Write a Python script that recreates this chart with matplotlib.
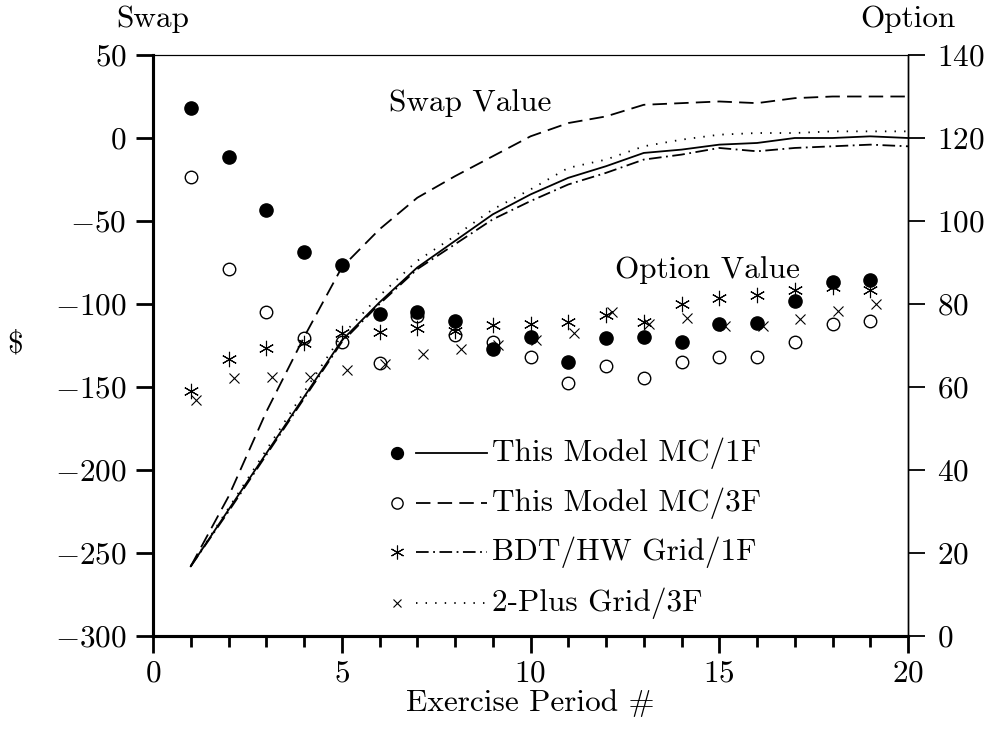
import matplotlib
matplotlib.use('Agg')
import matplotlib.pyplot as plt
import numpy as np
from matplotlib.ticker import MultipleLocator

plt.rcParams['font.family'] = 'serif'
plt.rcParams['font.serif'] = ['cmr10', 'DejaVu Serif']
plt.rcParams['mathtext.fontset'] = 'cm'
plt.rcParams['axes.formatter.use_mathtext'] = True

# swap values ($), left axis -- one value per exercise period
periods = np.arange(1, 21)
swap_mc1f = [-258, -224, -190, -156, -122, -99, -78, -62, -46, -34, -24, -17, -9, -7, -4, -3, 0, 0, 1, 0]
swap_mc3f = [-258, -216, -165, -120, -78, -55, -36, -23, -11, 1, 9, 13, 20, 21, 22, 21, 24, 25, 25, 25]
swap_bdt = [-258, -225, -191, -157, -123, -100, -79, -64, -49, -38, -28, -21, -13, -10, -6, -8, -6, -5, -4, -5]
swap_2plus = [-258, -223, -188, -153, -119, -95, -74, -59, -43, -31, -18, -13, -5, -1, 2, 3, 3, 4, 4, 4]

# option values, right axis
opt_periods = np.arange(1, 20)
opt_mc1f = [127.2, 115.5, 102.6, 92.6, 89.4, 77.6, 78.1, 76.0, 69.2, 72.1, 66.1, 71.9, 72.1, 70.8, 75.2, 75.5, 80.8, 85.4, 85.8]
opt_mc3f = [110.5, 88.4, 78.1, 71.7, 70.9, 65.7, 77.2, 72.5, 70.9, 67.3, 61.0, 65.1, 62.2, 66.1, 67.3, 67.3, 70.9, 75.3, 76.0]
opt_bdt = [59.1, 66.7, 69.3, 70.5, 72.9, 73.3, 74.1, 73.5, 74.9, 75.3, 75.7, 77.3, 75.7, 80.0, 81.4, 82.2, 83.4, 84.2, 83.4]
opt_2plus = [56.9, 62.2, 62.5, 62.5, 64.1, 65.5, 67.9, 69.1, 70.1, 71.3, 72.9, 78.1, 75.3, 76.7, 74.7, 74.7, 76.5, 78.4, 80.0]

labels = ['This Model MC/1F', 'This Model MC/3F', 'BDT/HW Grid/1F', '2-Plus Grid/3F']

FS = 22.5
lw = 1.3
styles = [dict(ls='-'), dict(ls=(0, (8, 4))), dict(ls=(0, (7, 2.5, 1, 2.5))), dict(ls=(0, (0.8, 4.5)))]
marks = [dict(marker='o', mfc='k', mec='k', ms=9.5),
         dict(marker='o', mfc='none', mec='k', ms=9, mew=1.0),
         dict(marker=(6, 2, 0), mfc='k', mec='k', ms=11, mew=0.8),
         dict(marker='x', mfc='k', mec='k', ms=6.5, mew=0.8)]

fig = plt.figure(figsize=(9.9, 7.42), dpi=100)
ax = fig.add_axes([153/990, 1 - 636/742, 755/990, 581/742])
ax2 = ax.twinx()

swaps = [swap_mc1f, swap_mc3f, swap_bdt, swap_2plus]
opts = [opt_mc1f, opt_mc3f, opt_bdt, opt_2plus]
for s, st in zip(swaps, styles):
    ax.plot(periods, s, color='k', lw=lw, **st)
offsets = [0, 0, 0, 0.15]
for o, mk, dx in zip(opts, marks, offsets):
    ax2.plot(opt_periods + dx, o, ls='none', **mk)

ax.set_xlim(0, 20)
ax.set_ylim(-300, 50)
ax2.set_ylim(0, 140)
ax.xaxis.set_major_locator(MultipleLocator(5))
ax.xaxis.set_minor_locator(MultipleLocator(1))
ax.yaxis.set_major_locator(MultipleLocator(50))
ax2.yaxis.set_major_locator(MultipleLocator(20))

for a in (ax, ax2):
    a.spines['top'].set_linewidth(0.8)
    a.spines['left'].set_linewidth(2.2)
    a.spines['bottom'].set_linewidth(2.2)
    a.spines['right'].set_linewidth(1.0)
ax.tick_params(axis='x', which='major', direction='out', length=12, width=2, pad=5, labelsize=FS)
ax.tick_params(axis='x', which='minor', direction='out', length=8, width=2)
ax.tick_params(axis='y', direction='out', length=12, width=2, pad=7, labelsize=FS)
ax2.tick_params(axis='y', direction='out', length=12, width=1.3, pad=9, labelsize=FS)

ax.set_xlabel('Exercise Period #', fontsize=FS, va='center')
ax.xaxis.set_label_coords(0.5, (636 - 703) / 581)
ax.set_ylabel('\\$', fontsize=FS, rotation=0, va='center', ha='center')
ax.yaxis.set_label_coords((15 - 153) / 755, (636 - 345) / 581)
ax.text(0, 1.062, 'Swap', transform=ax.transAxes, ha='center', va='center', fontsize=FS)
ax.text(1, 1.062, 'Option', transform=ax.transAxes, ha='center', va='center', fontsize=FS)
ax.text(8.4, 21, 'Swap Value', ha='center', va='center', fontsize=FS)
ax2.text(14.7, 88.2, 'Option Value', ha='center', va='center', fontsize=FS)

# legend drawn by hand: marker, then line sample, then text
rows = [0.315, 0.229, 0.144, 0.057]
for y, st, mk, lab in zip(rows, styles, marks, labels):
    m = dict(mk)
    m['ms'] = m['ms'] * 0.9
    ax.plot([0.323], [y], transform=ax.transAxes, ls='none', clip_on=False, **m)
    ax.plot([0.348, 0.442], [y, y], transform=ax.transAxes, color='k', lw=lw, **st)
    ax.text(0.449, y, lab, transform=ax.transAxes, ha='left', va='center', fontsize=FS)

fig.savefig('out.png', dpi=100)
